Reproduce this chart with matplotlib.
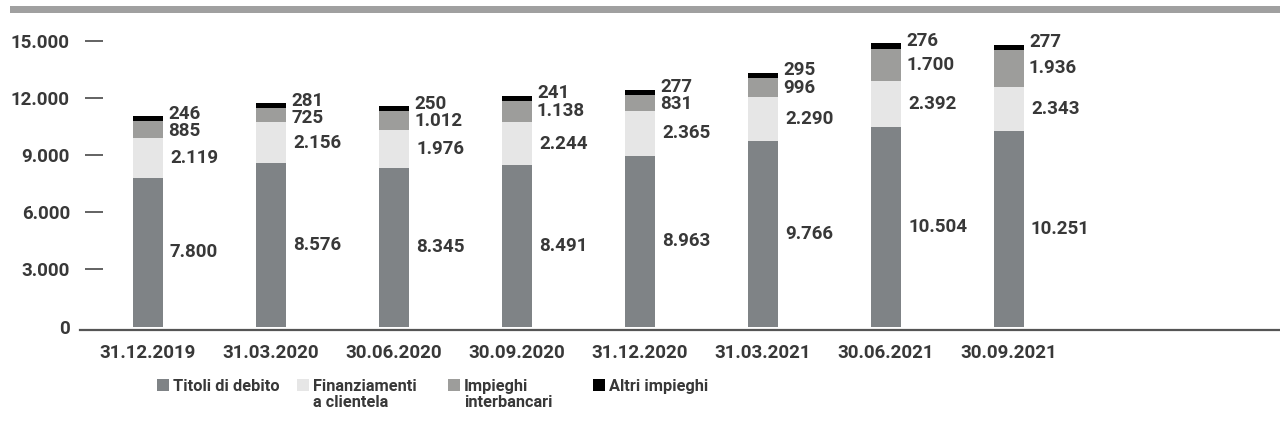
import numpy as np
import matplotlib.pyplot as plt
from matplotlib.patches import Rectangle
from matplotlib.lines import Line2D

# dati (milioni)
date = ['31.12.2019', '31.03.2020', '30.06.2020', '30.09.2020',
        '31.12.2020', '31.03.2021', '30.06.2021', '30.09.2021']
titoli = [7800, 8576, 8345, 8491, 8963, 9766, 10504, 10251]
finanziamenti = [2119, 2156, 1976, 2244, 2365, 2290, 2392, 2343]
interbancari = [885, 725, 1012, 1138, 831, 996, 1700, 1936]
altri = [246, 281, 250, 241, 277, 295, 276, 277]

serie = ['Titoli di debito', 'Finanziamenti\na clientela',
         'Impieghi\ninterbancari', 'Altri impieghi']
colori = ['#7f8386', '#e6e6e6', '#9d9d9b', '#000000']
y_ticks = [0, 3000, 6000, 9000, 12000, 15000]

testo = '#383838'
plt.rcParams['font.family'] = ['Roboto', 'DejaVu Sans']
plt.rcParams['font.weight'] = 'semibold'


def fmt(v):
    return f'{v:,}'.replace(',', '.')


W, H = 1280, 445
fig = plt.figure(figsize=(W / 100, H / 100), dpi=100)
ax = fig.add_axes([103 / W, 1 - 330 / H, 1 - 103 / W, 300 / H])

x = np.arange(len(date))
w = 30 / 123
dati = [titoli, finanziamenti, interbancari, altri]
base = np.zeros(len(date))
for vals, c in zip(dati, colori):
    ax.bar(x, vals, w, bottom=base, color=c, linewidth=0)
    base = base + np.array(vals)

tot = base
px = 0.01903  # pixel per unita'
gap = 17 / px
for i in range(len(date)):
    xr = x[i] + w / 2
    t, f, b, a = titoli[i], finanziamenti[i], interbancari[i], altri[i]
    ya = tot[i] + 130
    yb = min(t + f + b / 2, ya - gap)
    for val, yy, dx in [(t, t / 2, 7), (f, t + f / 2, 7), (b, yb, 5), (a, ya, 5)]:
        ax.annotate(fmt(val), (xr, yy), xytext=(dx * 0.72, 0), textcoords='offset points',
                    ha='left', va='center', fontsize=13.5, color=testo)

ax.set_xlim((103 - 148) / 123, (1280 - 148) / 123)
ax.set_ylim(-3.5 / px, 296.5 / px)
for s in ax.spines.values():
    s.set_visible(False)
ax.set_xticks(x)
ax.set_xticklabels(date)
ax.set_yticks(y_ticks)
ax.set_yticklabels([fmt(v) for v in y_ticks])
ax.tick_params(axis='x', length=0, pad=10, labelsize=13.5, labelcolor=testo)
ax.tick_params(axis='y', length=13, width=1.1, color=testo, pad=10.8,
               labelsize=13.5, labelcolor=testo)
ax.yaxis.get_major_ticks()[0].tick1line.set_visible(False)

# linea base e barra superiore
fig.add_artist(Line2D([80 / W, 1], [1 - 330 / H] * 2, color='#555555', lw=1.6))
fig.add_artist(Rectangle((10 / W, 1 - 12.5 / H), 1, 6 / H, color='#a0a0a0', lw=0))

# legenda
leg_x = [157, 297, 448, 593]
for lx, lab, c in zip(leg_x, serie, colori):
    fig.add_artist(Rectangle((lx / W, 1 - 391 / H), 12 / W, 12 / H, color=c, lw=0))
    fig.text((lx + 16) / W, 1 - 379 / H, lab, ha='left', va='top', fontsize=11.8,
             color=testo, linespacing=1.1)

fig.savefig('out.png', dpi=100)
